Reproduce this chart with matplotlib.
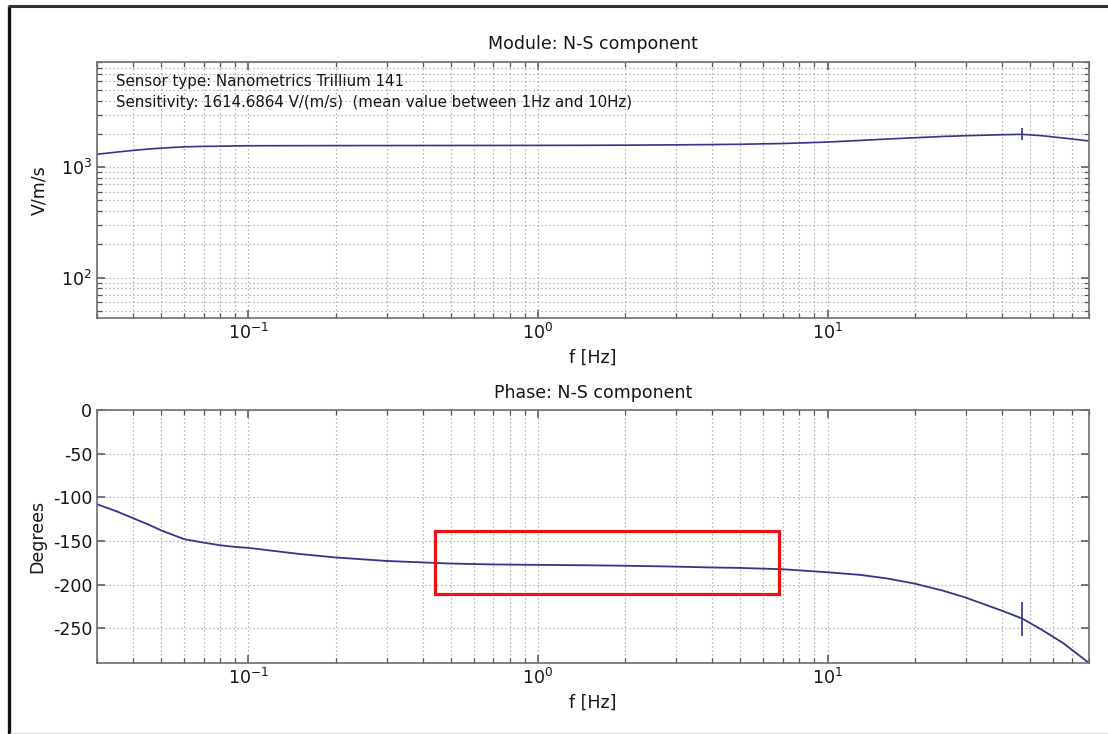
import matplotlib
matplotlib.use("Agg")
import matplotlib.pyplot as plt
from matplotlib.ticker import LogLocator, LogFormatterSciNotation, NullFormatter
from matplotlib.patches import Rectangle
from matplotlib.lines import Line2D

plt.rcParams['font.family'] = ['DejaVu Sans']
plt.rcParams['mathtext.default'] = 'regular'
plt.rcParams['axes.unicode_minus'] = False

# Frequency response of the N-S channel
freq = [0.03, 0.035, 0.04, 0.045, 0.05, 0.06, 0.07, 0.08, 0.09, 0.1, 0.15, 0.2,
        0.3, 0.5, 0.7, 1.0, 1.5, 2.0, 3.0, 4.0, 5.0, 7.0, 10.0, 13.0, 16.0, 20.0,
        25.0, 30.0, 40.0, 47.0, 55.0, 65.0, 80.0]
module = [1310, 1370, 1420, 1460, 1490, 1530, 1545, 1550, 1560, 1565, 1568, 1570,
          1572, 1574, 1575, 1577, 1580, 1585, 1595, 1605, 1615, 1640, 1690, 1750, 1800,
          1850, 1900, 1930, 1970, 1985, 1930, 1840, 1730]
phase = [-108, -116, -124, -131, -138, -148, -152, -155, -157, -158, -165, -169,
         -173, -176, -177, -177.5, -178, -178.5, -179.5, -180.5, -181, -182.5, -186, -189, -193,
         -199, -207, -215, -230, -239, -252, -267, -290]

# Reference mark on both curves
mark_freq = [47.0]
mark_module = [1985]
mark_phase = [-239]

phase_ticks = [0, -50, -100, -150, -200, -250]

sensor_lines = ["Sensor type: Nanometrics Trillium 141",
                "Sensitivity: 1614.6864 V/(m/s)  (mean value between 1Hz and 10Hz)"]

line_color = '#34348a'
grid_color = '#a0a0a0'
spine_color = '#6e6e6e'
text_color = '#151515'

fig = plt.figure(figsize=(11.08, 7.34), dpi=100)
fig.patch.set_facecolor('white')


def style_axes(ax):
    ax.set_xscale('log')
    ax.set_xlim(0.03, 80)
    ax.xaxis.set_major_locator(LogLocator(base=10, numticks=10))
    ax.xaxis.set_minor_locator(LogLocator(base=10, subs=range(2, 10), numticks=20))
    ax.xaxis.set_major_formatter(LogFormatterSciNotation())
    ax.xaxis.set_minor_formatter(NullFormatter())
    ax.grid(True, which='both', axis='both', linestyle=(0, (1, 2.2)),
            color=grid_color, linewidth=0.9)
    ax.tick_params(which='both', direction='in', top=True, right=True,
                   color='#555555', labelsize=12.5, labelcolor=text_color)
    ax.tick_params(which='major', length=6, width=1.1)
    ax.tick_params(which='minor', length=3.5, width=0.9)
    for s in ax.spines.values():
        s.set_color(spine_color)
        s.set_linewidth(1.2)
    ax.set_axisbelow(True)


# Module panel
ax1 = fig.add_axes([0.0875, 0.5668, 0.8954, 0.3488])
style_axes(ax1)
ax1.set_yscale('log')
ax1.set_ylim(43, 9000)
ax1.yaxis.set_major_locator(LogLocator(base=10, numticks=10))
ax1.yaxis.set_minor_locator(LogLocator(base=10, subs=range(2, 10), numticks=20))
ax1.yaxis.set_minor_formatter(NullFormatter())
ax1.plot(freq, module, color=line_color, lw=1.2)
ax1.plot(mark_freq, mark_module, marker='|', color=line_color, ms=9, mew=1.2, ls='none')
ax1.set_title("Module: N-S component", fontsize=12.5, color=text_color, pad=9)
ax1.set_xlabel("f [Hz]", fontsize=12.5, color=text_color, labelpad=4)
ax1.set_ylabel("V/m/s", fontsize=12.5, color=text_color, labelpad=9)
ax1.text(0.019, 0.925, sensor_lines[0], transform=ax1.transAxes, fontsize=10.8,
         color=text_color, va='center', ha='left')
ax1.text(0.019, 0.842, sensor_lines[1], transform=ax1.transAxes, fontsize=10.8,
         color=text_color, va='center', ha='left')

# Phase panel
ax2 = fig.add_axes([0.0875, 0.0967, 0.8954, 0.3447])
style_axes(ax2)
ax2.set_ylim(-290, 0)
ax2.set_yticks(phase_ticks)
ax2.plot(freq, phase, color=line_color, lw=1.3)
ax2.plot(mark_freq, mark_phase, marker='|', color=line_color, ms=24, mew=1.2, ls='none')
ax2.set_title("Phase: N-S component", fontsize=12.5, color=text_color, pad=9)
ax2.set_xlabel("f [Hz]", fontsize=12.5, color=text_color, labelpad=4)
ax2.set_ylabel("Degrees", fontsize=12.5, color=text_color, labelpad=5)

# Highlight box over the flat part of the phase response
fig.patches.append(Rectangle((0.3926, 0.1907), 0.3105, 0.0858, transform=fig.transFigure,
                             fill=False, edgecolor='#ee1111', linewidth=2.3))

# Outer frame
fig.lines.append(Line2D([0.0085, 0.0085], [0.0, 0.9915], transform=fig.transFigure,
                        color='#111111', linewidth=2.4, solid_capstyle='butt'))
fig.lines.append(Line2D([0.0075, 1.0], [0.9915, 0.9915], transform=fig.transFigure,
                        color='#333333', linewidth=2.2, solid_capstyle='butt'))
fig.lines.append(Line2D([0.009, 1.0], [0.0015, 0.0015], transform=fig.transFigure,
                        color='#dddddd', linewidth=1.0, solid_capstyle='butt'))

fig.savefig("out.png", dpi=100, facecolor='white')
